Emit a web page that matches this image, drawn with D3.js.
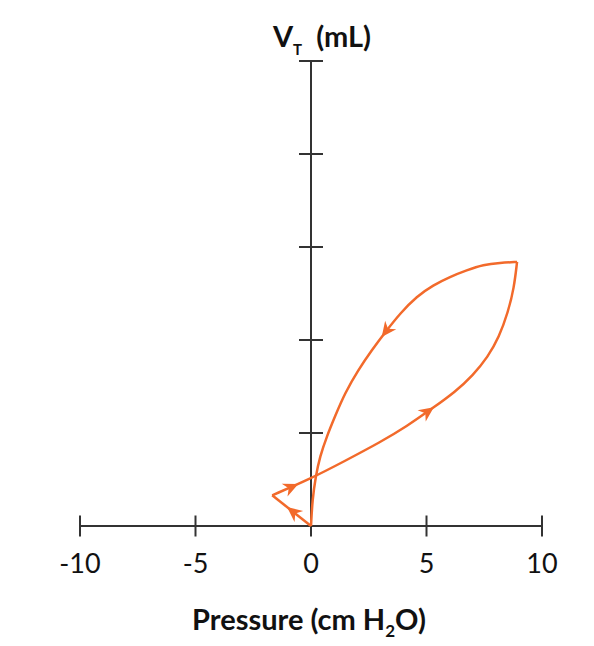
<!DOCTYPE html>
<html>
<head>
<meta charset="utf-8">
<script src="https://cdn.jsdelivr.net/npm/d3@7"></script>
<style>
  html, body { margin: 0; padding: 0; background: #fff; }
  svg { display: block; font-family: Lato, "Open Sans", sans-serif; }
</style>
</head>
<body>
<svg id="chart" width="594" height="646"></svg>
<script>
// Pressure-volume loop (spontaneous breath)

// Axis ticks
const xTicks = [-10, -5, 0, 5, 10];
const yTicks = [0, 1, 2, 3, 4, 5];

// Loop segments, [pressure (cm H2O), volume (tick units)]
const triggerSegment = [[0, 0], [-1.68, 0.33]];
const inspiration = [
    [-1.68, 0.33], [0, 0.51], [1.47, 0.70], [2.99, 0.90], [4.14, 1.07],
    [5.28, 1.27], [6.23, 1.44], [7.01, 1.62], [7.66, 1.82], [8.14, 2.03],
    [8.53, 2.30], [8.79, 2.56], [8.92, 2.84]
];
const expiration = [
    [8.92, 2.84], [8.18, 2.83], [7.46, 2.81], [6.74, 2.75], [6.02, 2.68],
    [5.29, 2.59], [4.58, 2.47], [3.87, 2.29], [3.20, 2.08], [2.63, 1.89],
    [2.05, 1.68], [1.47, 1.43], [1.04, 1.18], [0.68, 0.96], [0.39, 0.75],
    [0.20, 0.53], [0.06, 0.28], [0, 0]
];

// Arrowhead positions (snapped onto their segment)
const arrows = [
    { seg: 0, at: [-1.13, 0.17] },
    { seg: 1, at: [-0.56, 0.46] },
    { seg: 1, at: [5.28, 1.29] },
    { seg: 2, at: [3.00, 2.04] }
];

const orange = '#f26a2b';
const axisColor = '#333333';

const svg = d3.select('#chart');

const x = d3.scaleLinear().domain([-10, 10]).range([80, 542]);
const y = d3.scaleLinear().domain([0, 5]).range([526, 61]);

// X axis
const xAxis = svg.append('g');
xAxis.append('line')
    .attr('x1', x(-10)).attr('x2', x(10))
    .attr('y1', y(0)).attr('y2', y(0))
    .attr('stroke', axisColor).attr('stroke-width', 2);
xAxis.selectAll('.xtick')
    .data(xTicks)
    .enter()
    .append('line')
    .attr('x1', d => x(d)).attr('x2', d => x(d))
    .attr('y1', y(0) - 10.5).attr('y2', y(0) + 10.5)
    .attr('stroke', axisColor).attr('stroke-width', 2);
xAxis.selectAll('.xlabel')
    .data(xTicks)
    .enter()
    .append('text')
    .attr('x', d => x(d))
    .attr('y', 573)
    .attr('text-anchor', 'middle')
    .attr('fill', '#111')
    .attr('font-size', '27px')
    .text(d => d);

// Y axis
const yAxis = svg.append('g');
yAxis.append('line')
    .attr('x1', x(0)).attr('x2', x(0))
    .attr('y1', y(0)).attr('y2', y(5))
    .attr('stroke', axisColor).attr('stroke-width', 2);
yAxis.selectAll('.ytick')
    .data(yTicks.filter(d => d > 0))
    .enter()
    .append('line')
    .attr('x1', x(0) - 12).attr('x2', x(0) + 12)
    .attr('y1', d => y(d)).attr('y2', d => y(d))
    .attr('stroke', axisColor).attr('stroke-width', 2);

// Loop (B-spline smooths the hand-read points)
const line = d3.line()
    .x(d => x(d[0]))
    .y(d => y(d[1]));

const segments = [
    { pts: triggerSegment, curve: d3.curveLinear },
    { pts: inspiration, curve: d3.curveBasis },
    { pts: expiration, curve: d3.curveBasis }
];

const paths = segments.map(s =>
    svg.append('path')
        .attr('d', line.curve(s.curve)(s.pts))
        .attr('fill', 'none')
        .attr('stroke', orange)
        .attr('stroke-width', 2.5)
        .attr('stroke-linejoin', 'miter')
        .node()
);

// Arrowheads
arrows.forEach(a => {
    const p = paths[a.seg];
    const total = p.getTotalLength();
    const tx = x(a.at[0]), ty = y(a.at[1]);
    let best = 0, bestD = Infinity;
    for (let l = 0; l <= total; l += 0.5) {
        const pt = p.getPointAtLength(l);
        const dd = (pt.x - tx) ** 2 + (pt.y - ty) ** 2;
        if (dd < bestD) { bestD = dd; best = l; }
    }
    const tip = p.getPointAtLength(best);
    const back = p.getPointAtLength(Math.max(0, best - 2));
    const angle = Math.atan2(tip.y - back.y, tip.x - back.x) * 180 / Math.PI;
    svg.append('path')
        .attr('d', 'M0,0 L-15,-7 L-10.5,0 L-15,7 Z')
        .attr('fill', orange)
        .attr('transform', `translate(${tip.x},${tip.y}) rotate(${angle})`);
});

// Axis titles
const yTitle = svg.append('text')
    .attr('x', 322)
    .attr('y', 47)
    .attr('text-anchor', 'middle')
    .attr('fill', '#111')
    .attr('font-size', '29px')
    .attr('font-weight', 'bold');
yTitle.append('tspan').text('V');
yTitle.append('tspan').attr('font-size', '15px').attr('dy', 8).text('T');
yTitle.append('tspan').attr('dy', -8).text('\u00a0\u00a0(mL)');

const xTitle = svg.append('text')
    .attr('x', 309)
    .attr('y', 630)
    .attr('text-anchor', 'middle')
    .attr('fill', '#111')
    .attr('font-size', '29px')
    .attr('font-weight', 'bold');
xTitle.append('tspan').text('Pressure (cm H');
xTitle.append('tspan').attr('font-size', '17px').attr('dy', 7).text('2');
xTitle.append('tspan').attr('dy', -7).text('O)');
</script>
</body>
</html>
